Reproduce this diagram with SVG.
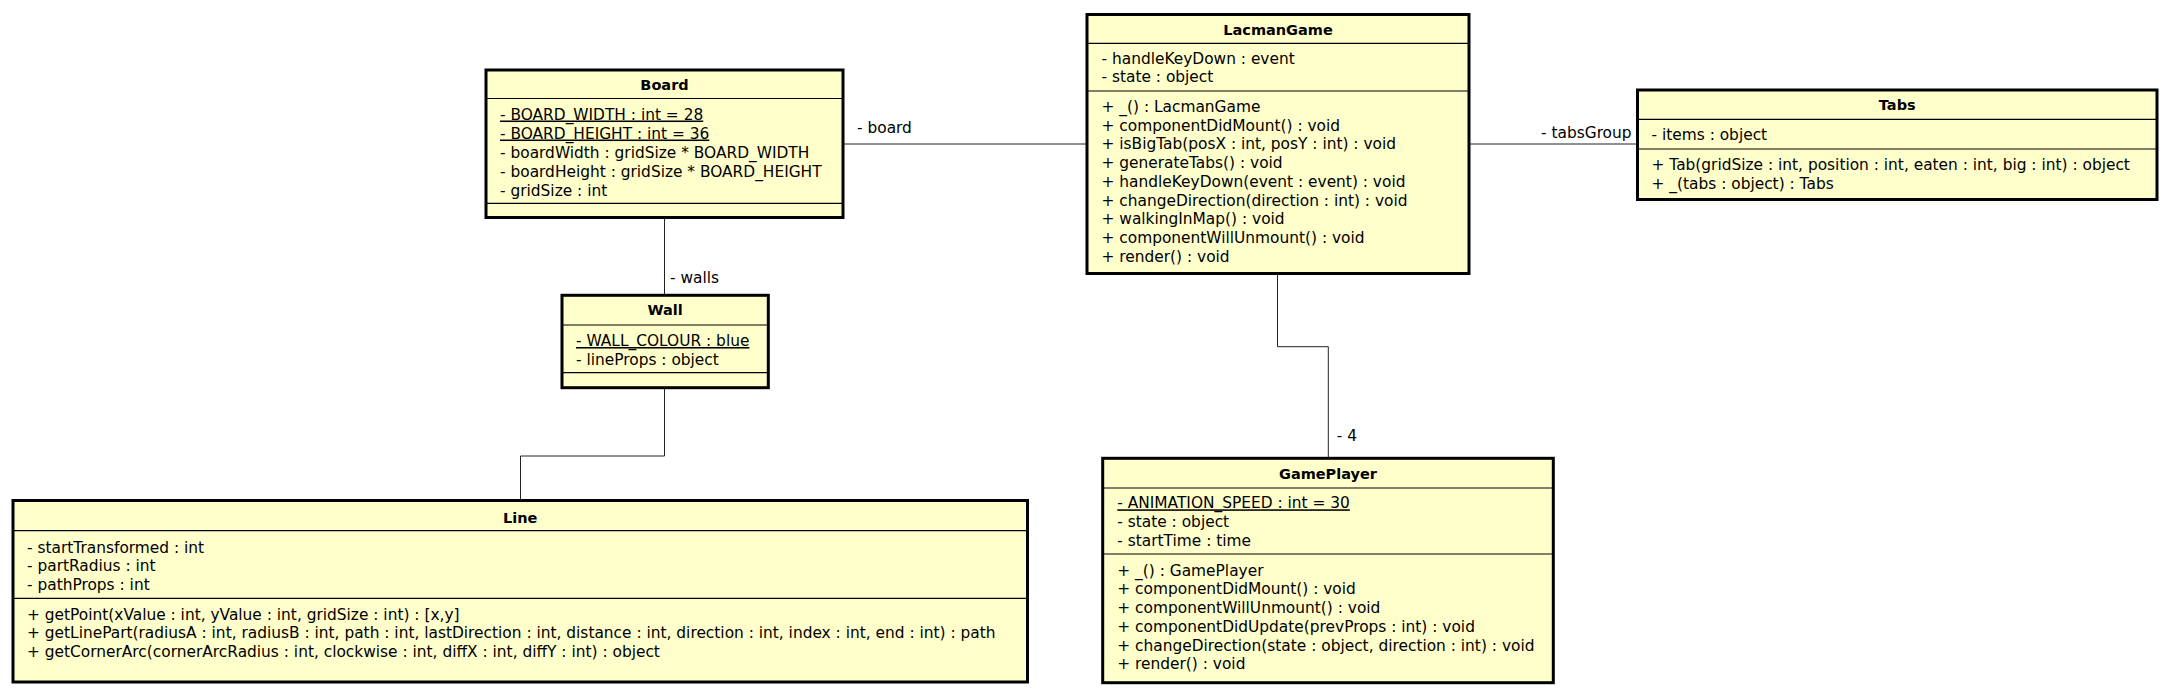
<svg xmlns="http://www.w3.org/2000/svg" width="2169" height="696" viewBox="0 0 2169 696">
<style>
.box{fill:#ffffcc;stroke:#000;stroke-width:3}
.sep{stroke:#000;stroke-width:1.2}
.t{font-family:"DejaVu Sans","Liberation Sans",sans-serif;font-size:15.4px;fill:#000}
.h{font-family:"DejaVu Sans","Liberation Sans",sans-serif;font-size:14.5px;font-weight:bold;fill:#000;text-anchor:middle}
.u{text-decoration:underline}
.c{fill:none;stroke:#222;stroke-width:1}
</style>
<rect width="2169" height="696" fill="#fff"/>
<g id="connectors">
<polyline class="c" points="843,144 1087,144"/>
<text class="t" x="857" y="133">- board</text>
<polyline class="c" points="1469,144 1637.5,144"/>
<text class="t" x="1541" y="138">- tabsGroup</text>
<polyline class="c" points="664.5,217.5 664.5,295.3"/>
<text class="t" x="670" y="283">- walls</text>
<polyline class="c" points="664.5,387.7 664.5,456 520.5,456 520.5,500.5"/>
<polyline class="c" points="1277.5,273.5 1277.5,346.7 1328.3,346.7 1328.3,458.3"/>
<text class="t" x="1336.7" y="440.7">- 4</text>
</g>
<g id="Board">
<rect class="box" x="486" y="70" width="357" height="147.5"/>
<line class="sep" x1="486" y1="98.5" x2="843" y2="98.5"/>
<line class="sep" x1="486" y1="203.3" x2="843" y2="203.3"/>
<text class="h" x="664.5" y="90">Board</text>
<text class="t u" x="500" y="119.5">- BOARD_WIDTH : int = 28</text>
<text class="t u" x="500" y="138.5">- BOARD_HEIGHT : int = 36</text>
<text class="t" x="500" y="157.5">- boardWidth : gridSize * BOARD_WIDTH</text>
<text class="t" x="500" y="176.5">- boardHeight : gridSize * BOARD_HEIGHT</text>
<text class="t" x="500" y="195.5">- gridSize : int</text>
</g>
<g id="Wall">
<rect class="box" x="562" y="295.3" width="206.3" height="92.4"/>
<line class="sep" x1="562" y1="325" x2="768.3" y2="325"/>
<line class="sep" x1="562" y1="372.7" x2="768.3" y2="372.7"/>
<text class="h" x="665.2" y="315">Wall</text>
<text class="t u" x="576" y="346">- WALL_COLOUR : blue</text>
<text class="t" x="576" y="364.5">- lineProps : object</text>
</g>
<g id="Line">
<rect class="box" x="13" y="500.5" width="1014.5" height="181.5"/>
<line class="sep" x1="13" y1="530.7" x2="1027.5" y2="530.7"/>
<line class="sep" x1="13" y1="598.3" x2="1027.5" y2="598.3"/>
<text class="h" x="520.25" y="523">Line</text>
<text class="t" x="27" y="552.5">- startTransformed : int</text>
<text class="t" x="27" y="571.3">- partRadius : int</text>
<text class="t" x="27" y="590">- pathProps : int</text>
<text class="t" x="27" y="619.5">+ getPoint(xValue : int, yValue : int, gridSize : int) : [x,y]</text>
<text class="t" x="27" y="638.3">+ getLinePart(radiusA : int, radiusB : int, path : int, lastDirection : int, distance : int, direction : int, index : int, end : int) : path</text>
<text class="t" x="27" y="657">+ getCornerArc(cornerArcRadius : int, clockwise : int, diffX : int, diffY : int) : object</text>
</g>
<g id="LacmanGame">
<rect class="box" x="1087" y="14.5" width="382" height="259"/>
<line class="sep" x1="1087" y1="43.3" x2="1469" y2="43.3"/>
<line class="sep" x1="1087" y1="91" x2="1469" y2="91"/>
<text class="h" x="1278" y="35">LacmanGame</text>
<text class="t" x="1101.5" y="63.5">- handleKeyDown : event</text>
<text class="t" x="1101.5" y="82.3">- state : object</text>
<text class="t" x="1101.5" y="111.7">+ _() : LacmanGame</text>
<text class="t" x="1101.5" y="130.5">+ componentDidMount() : void</text>
<text class="t" x="1101.5" y="149.2">+ isBigTab(posX : int, posY : int) : void</text>
<text class="t" x="1101.5" y="168">+ generateTabs() : void</text>
<text class="t" x="1101.5" y="186.7">+ handleKeyDown(event : event) : void</text>
<text class="t" x="1101.5" y="205.5">+ changeDirection(direction : int) : void</text>
<text class="t" x="1101.5" y="224.2">+ walkingInMap() : void</text>
<text class="t" x="1101.5" y="243">+ componentWillUnmount() : void</text>
<text class="t" x="1101.5" y="261.7">+ render() : void</text>
</g>
<g id="Tabs">
<rect class="box" x="1637.5" y="90" width="519.5" height="109.5"/>
<line class="sep" x1="1637.5" y1="119.3" x2="2157" y2="119.3"/>
<line class="sep" x1="1637.5" y1="149" x2="2157" y2="149"/>
<text class="h" x="1897.25" y="110">Tabs</text>
<text class="t" x="1651.5" y="140">- items : object</text>
<text class="t" x="1651.5" y="170">+ Tab(gridSize : int, position : int, eaten : int, big : int) : object</text>
<text class="t" x="1651.5" y="188.5">+ _(tabs : object) : Tabs</text>
</g>
<g id="GamePlayer">
<rect class="box" x="1102.7" y="458.3" width="450.6" height="224.4"/>
<line class="sep" x1="1102.7" y1="488" x2="1553.3" y2="488"/>
<line class="sep" x1="1102.7" y1="554" x2="1553.3" y2="554"/>
<text class="h" x="1328" y="479.3">GamePlayer</text>
<text class="t u" x="1117.3" y="508.3">- ANIMATION_SPEED : int = 30</text>
<text class="t" x="1117.3" y="527.2">- state : object</text>
<text class="t" x="1117.3" y="546.2">- startTime : time</text>
<text class="t" x="1117.3" y="575.7">+ _() : GamePlayer</text>
<text class="t" x="1117.3" y="594.4">+ componentDidMount() : void</text>
<text class="t" x="1117.3" y="613.1">+ componentWillUnmount() : void</text>
<text class="t" x="1117.3" y="631.8">+ componentDidUpdate(prevProps : int) : void</text>
<text class="t" x="1117.3" y="650.5">+ changeDirection(state : object, direction : int) : void</text>
<text class="t" x="1117.3" y="669.2">+ render() : void</text>
</g>
</svg>
